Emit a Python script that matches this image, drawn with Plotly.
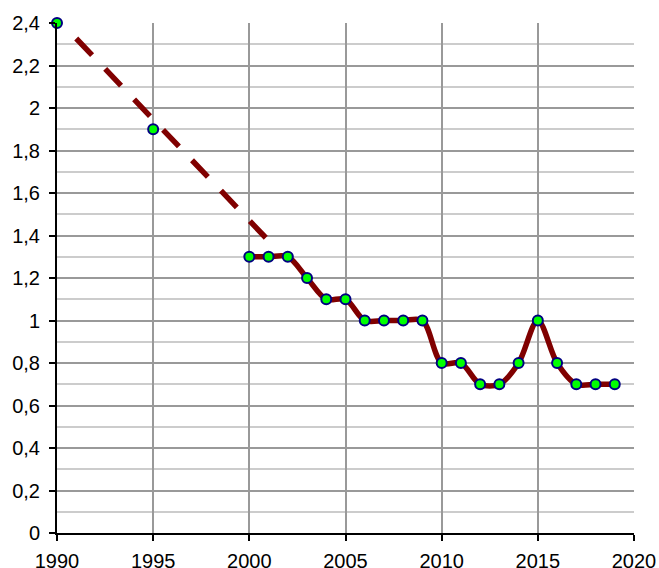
import plotly.graph_objects as go

years = list(range(1990, 2020))
values = {1990: 2.4, 1995: 1.9, 2000: 1.3, 2001: 1.3, 2002: 1.3, 2003: 1.2, 2004: 1.1,
          2005: 1.1, 2006: 1.0, 2007: 1.0, 2008: 1.0, 2009: 1.0, 2010: 0.8, 2011: 0.8,
          2012: 0.7, 2013: 0.7, 2014: 0.8, 2015: 1.0, 2016: 0.8, 2017: 0.7, 2018: 0.7,
          2019: 0.7}
series_y = [values.get(y) for y in years]

trend_x = [1991.0, 2000.9]
trend_y = [2.327, 1.385]

x_ticks = [1990, 1995, 2000, 2005, 2010, 2015, 2020]
y_ticks = [0, 0.2, 0.4, 0.6, 0.8, 1.0, 1.2, 1.4, 1.6, 1.8, 2.0, 2.2, 2.4]

fig = go.Figure()
fig.add_trace(go.Scatter(
    x=trend_x, y=trend_y, mode="lines",
    line=dict(color="#800000", width=5.5, dash="23px,19px"),
    hoverinfo="skip", showlegend=False))
fig.add_trace(go.Scatter(
    x=years, y=series_y, mode="lines+markers", connectgaps=False,
    line=dict(color="#800000", width=5.5, shape="spline", smoothing=0.9),
    marker=dict(size=10, color="#00ff00", line=dict(color="#000080", width=2)),
    cliponaxis=False, showlegend=False))

font = dict(family="Liberation Sans, Arial, sans-serif", size=20, color="#000000")

fig.update_layout(
    width=659, height=568,
    margin=dict(l=57, r=25, t=23, b=35, autoexpand=False),
    paper_bgcolor="white", plot_bgcolor="white",
    separators=", ",
    font=font,
    xaxis=dict(range=[1990, 2020], tickmode="array", tickvals=x_ticks,
               ticktext=[str(v) for v in x_ticks], automargin=False,
               showline=True, linecolor="#000000", linewidth=2,
               ticks="outside", ticklen=6, tickwidth=2, tickcolor="#000000",
               ticklabelstandoff=3,
               showgrid=True, gridcolor="#999999", gridwidth=2,
               zeroline=False, tickfont=font),
    yaxis=dict(range=[0, 2.4], tickmode="array", tickvals=y_ticks,
               ticktext=[("%g" % v).replace(".", ",") for v in y_ticks], automargin=False,
               showline=True, linecolor="#000000", linewidth=2,
               ticks="outside", ticklen=6, tickwidth=2, tickcolor="#000000",
               ticklabelstandoff=5,
               showgrid=True, gridcolor="#999999", gridwidth=2,
               zeroline=False, tickfont=font,
               minor=dict(dtick=0.1, showgrid=True, gridcolor="#cccccc", gridwidth=1.5,
                          ticks="")),
)

fig.write_html(
    "out.html",
    config={"displayModeBar": False},
    post_script="document.body.style.margin='0';document.body.style.overflow='hidden';",
)
